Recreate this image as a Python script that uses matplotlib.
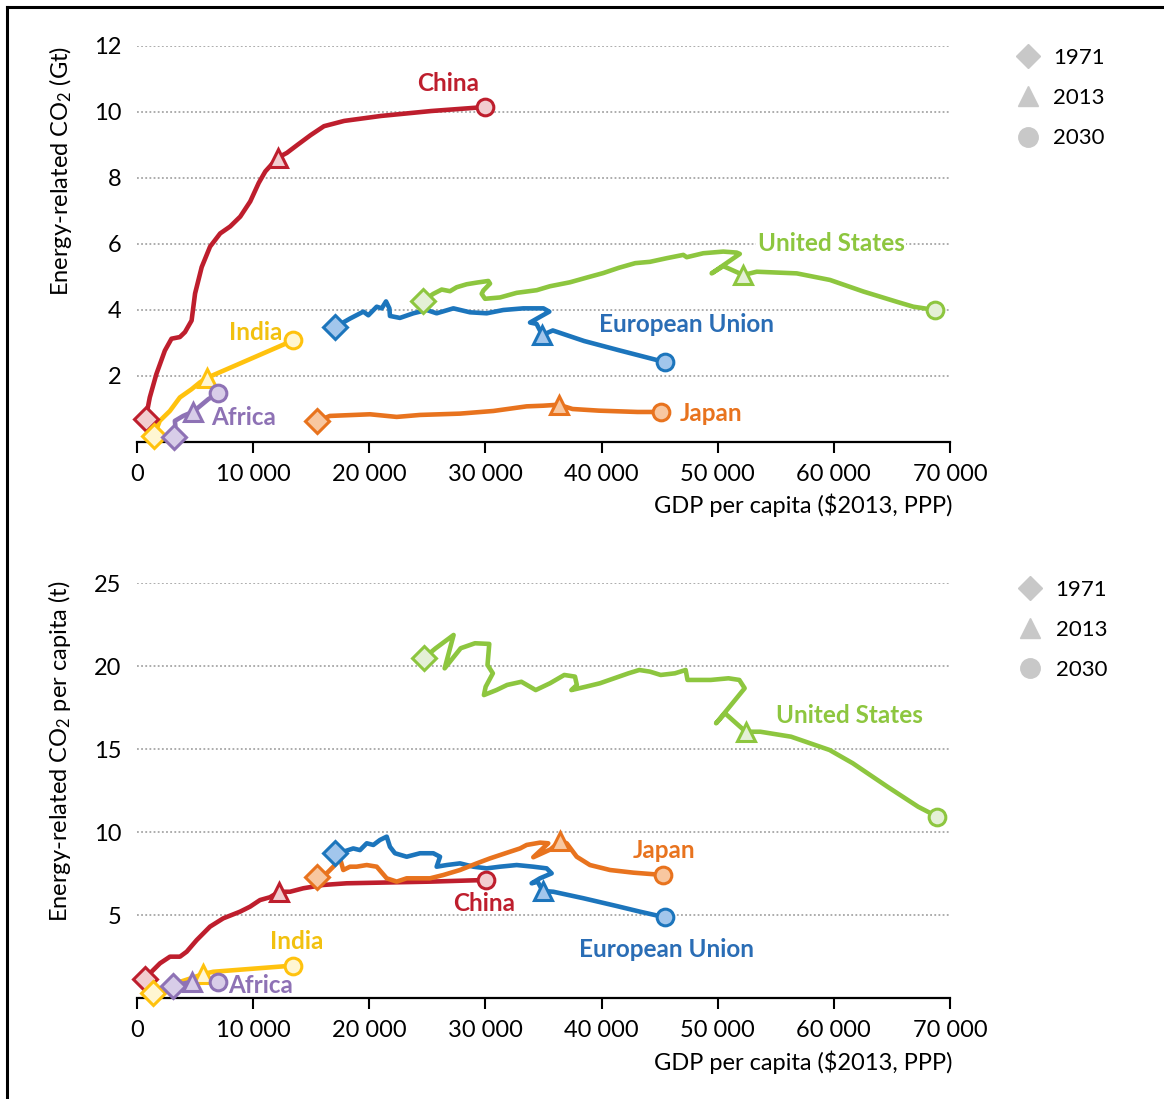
import matplotlib.pyplot as plt
from matplotlib.lines import Line2D

plt.rcParams['font.family'] = ['Lato', 'DejaVu Sans']
plt.rcParams['mathtext.default'] = 'regular'

# GDP per capita ticks shared by both panels
x_ticks = [0, 10000, 20000, 30000, 40000, 50000, 60000, 70000]
x_tick_labels = ['0', '10 000', '20 000', '30 000', '40 000', '50 000', '60 000', '70 000']
top_y_ticks = [2, 4, 6, 8, 10, 12]
bot_y_ticks = [5, 10, 15, 20, 25]
years = ['1971', '2013', '2030']

# --- total emissions (Gt) against GDP per capita ---
china_gdp = [750, 1100, 1670, 2400, 2970, 3690, 4130, 4700, 5000, 5570, 6290, 7160, 8020,
             8890, 9750, 10480, 11050, 12100, 12900, 13800, 14950, 16100, 17840, 21000,
             25340, 29960]
china_co2 = [0.71, 1.35, 2.06, 2.77, 3.13, 3.18, 3.33, 3.68, 4.5, 5.3, 5.92, 6.32, 6.53,
             6.83, 7.29, 7.85, 8.2, 8.61, 8.76, 9.0, 9.3, 9.57, 9.73, 9.88, 10.03, 10.15]
china_i2013 = 17

india_gdp = [1440, 1960, 2830, 3690, 4700, 5430, 6060, 13450]
india_co2 = [0.17, 0.64, 0.94, 1.35, 1.6, 1.81, 1.95, 3.08]
india_i2013 = 6

africa_gdp = [3200, 3300, 3260, 3980, 4850, 6150, 7010]
africa_co2 = [0.15, 0.49, 0.64, 0.79, 0.92, 1.3, 1.48]
africa_i2013 = 4

japan_gdp = [15530, 16610, 20060, 22360, 24370, 27810, 30680, 33550, 34980, 36300,
             37500, 39770, 43090, 45150]
japan_co2 = [0.63, 0.79, 0.84, 0.76, 0.82, 0.86, 0.94, 1.08, 1.1, 1.13, 1.0, 0.95,
             0.91, 0.91]
japan_i2013 = 9

eu_gdp = [17050, 18340, 19490, 19920, 20640, 21070, 21440, 21730, 21780, 22640, 23790,
          24940, 25800, 27240, 28670, 30110, 31540, 33260, 34990, 35500, 34840, 33840,
          34400, 34900, 35800, 38500, 41500, 45460]
eu_co2 = [3.48, 3.74, 3.95, 3.84, 4.10, 4.05, 4.26, 4.05, 3.82, 3.76, 3.90, 4.0, 3.90,
          4.05, 3.93, 3.90, 4.0, 4.05, 4.05, 3.95, 3.82, 3.62, 3.58, 3.24, 3.38, 3.06,
          2.78, 2.42]
eu_i2013 = 23

us_gdp = [24655, 25516, 26233, 26951, 27525, 28386, 29247, 30251, 30395, 29821, 29677,
          29964, 31255, 32690, 34412, 35560, 37280, 38700, 40150, 41500, 42900, 44170,
          45610, 47040, 47330, 48760, 50480, 51630, 51900, 49480, 50480, 52200, 53360,
          56800, 59670, 62540, 65410, 66840, 68710]
us_co2 = [4.28, 4.49, 4.62, 4.57, 4.69, 4.78, 4.83, 4.88, 4.80, 4.59, 4.49, 4.34, 4.38,
          4.52, 4.60, 4.72, 4.84, 4.98, 5.12, 5.28, 5.42, 5.46, 5.57, 5.67, 5.60, 5.72,
          5.77, 5.74, 5.70, 5.11, 5.33, 5.06, 5.16, 5.11, 4.91, 4.56, 4.25, 4.10, 4.0]
us_i2013 = 31

# --- emissions per capita (t) against GDP per capita ---
china_gdp_pc = [690, 1120, 1980, 2840, 3700, 4280, 5140, 6290, 7430, 8870, 9730, 10590,
                11450, 12230, 13170, 14320, 16040, 18050, 20920, 25230, 30050]
china_pc = [1.12, 1.49, 2.09, 2.49, 2.49, 2.79, 3.49, 4.30, 4.80, 5.20, 5.50, 5.90, 6.07,
            6.40, 6.40, 6.61, 6.81, 6.91, 6.95, 7.01, 7.11]
china_pc_i2013 = 13

india_gdp_pc = [1400, 2500, 3600, 4700, 5710, 6570, 13400]
india_pc = [0.32, 0.7, 0.95, 1.2, 1.45, 1.58, 1.95]
india_pc_i2013 = 4

africa_gdp_pc = [3070, 3900, 4710, 5800, 7000]
africa_pc = [0.72, 0.85, 0.98, 0.96, 0.94]
africa_pc_i2013 = 2

japan_gdp_pc = [15530, 16330, 16900, 17480, 17760, 18340, 18910, 19780, 20640, 21500,
                22360, 23220, 24370, 25230, 26380, 27810, 29250, 30390, 31250, 32110,
                32980, 33550, 34700, 35410, 34120, 35600, 36420, 37000, 37860, 39000,
                40730, 42740, 45320]
japan_pc = [7.31, 7.51, 7.91, 8.41, 7.71, 7.91, 7.91, 8.01, 7.91, 7.21, 7.01, 7.21, 7.21,
            7.21, 7.41, 7.71, 8.11, 8.41, 8.61, 8.81, 9.01, 9.22, 9.36, 9.32, 8.48, 8.95,
            9.45, 9.32, 8.51, 8.01, 7.71, 7.55, 7.41]
japan_pc_i2013 = 26

eu_gdp_pc = [17050, 17760, 18620, 19200, 19780, 20350, 20920, 21500, 21780, 22210, 23220,
             24370, 25510, 26090, 25800, 26670, 27810, 28960, 30110, 31250, 32690, 34120,
             35270, 35700, 34700, 33980, 34500, 34930, 35850, 38430, 41300, 43310, 45460]
eu_pc = [8.75, 8.81, 9.01, 8.91, 9.32, 9.22, 9.52, 9.72, 9.11, 8.72, 8.51, 8.72, 8.72,
         8.51, 7.91, 8.01, 8.11, 7.91, 7.81, 7.91, 8.01, 7.91, 7.81, 7.51, 7.21, 6.91,
         7.0, 6.45, 6.40, 6.01, 5.54, 5.20, 4.86]
eu_pc_i2013 = 27

us_gdp_pc = [24740, 25720, 27260, 26490, 27870, 29100, 30330, 30180, 30640, 30020, 29870,
             30950, 31870, 33100, 34330, 35560, 36790, 37710, 37870, 37400, 38630, 39860,
             42320, 43250, 44170, 45090, 46320, 47240, 47400, 49400, 50930, 51860, 52320,
             49860, 50630, 52410, 53670, 56320, 59630, 61630, 64610, 67260, 68920]
us_pc = [20.5, 21.07, 21.87, 19.86, 21.07, 21.37, 21.33, 20.06, 19.56, 18.75, 18.25,
         18.55, 18.86, 19.05, 18.55, 18.96, 19.46, 19.36, 18.86, 18.55, 18.75, 18.96,
         19.56, 19.76, 19.66, 19.46, 19.56, 19.76, 19.16, 19.16, 19.26, 19.16, 18.66,
         16.55, 17.15, 16.04, 16.04, 15.74, 14.94, 14.14, 12.73, 11.52, 10.92]
us_pc_i2013 = 35

# line colour, marker fill, label colour
colors = {
    'China': ('#BE1E2D', '#F2CDD0', '#BE1E2D'),
    'India': ('#FFC20E', '#FFF6D2', '#F2C10F'),
    'Africa': ('#8E72B5', '#D8CDE8', '#8E72B5'),
    'Japan': ('#E8731E', '#F8C7A0', '#E8731E'),
    'European Union': ('#1C75BC', '#A2C6EC', '#2A6DB5'),
    'United States': ('#8DC63F', '#E4F0D6', '#8DC63F'),
}

fig = plt.figure(figsize=(11.64, 10.99), dpi=100)
W, H = 1164, 1099
ax1 = fig.add_axes([137 / W, 1 - 442 / H, 813 / W, 396 / H])
ax2 = fig.add_axes([137 / W, 1 - 998 / H, 813 / W, 415 / H])


def draw_series(ax, name, xs, ys, i2013):
    line, fill, _ = colors[name]
    ax.plot(xs, ys, color=line, lw=3.3, solid_joinstyle='round',
            solid_capstyle='round', zorder=3, clip_on=False)
    kw = dict(color=fill, markeredgecolor=line, markeredgewidth=2.2,
              linestyle='none', zorder=4, clip_on=False)
    ax.plot(xs[0], ys[0], marker='D', ms=12, **kw)
    ax.plot(xs[i2013], ys[i2013], marker='^', ms=13.5, **kw)
    ax.plot(xs[-1], ys[-1], marker='o', ms=12, **kw)


def label(ax, name, x, y, boxed=False):
    t = ax.text(x, y, name, color=colors[name][2], fontsize=17.5, fontweight='bold',
                ha='center', va='center', zorder=5)
    if boxed:
        t.set_bbox(dict(facecolor='white', edgecolor='none', pad=1))


def style_axes(ax, yticks, ymax):
    ax.set_xlim(0, 70000)
    ax.set_ylim(0, ymax)
    for s in ['top', 'right', 'left']:
        ax.spines[s].set_visible(False)
    ax.spines['bottom'].set_linewidth(1.6)
    ax.set_xticks(x_ticks)
    ax.set_xticklabels(x_tick_labels)
    ax.set_yticks(yticks)
    ax.set_yticklabels([str(v) for v in yticks])
    ax.tick_params(axis='x', direction='out', length=8, width=1.5, labelsize=17, pad=8)
    ax.tick_params(axis='y', length=0, labelsize=17, pad=11)
    ax.grid(axis='y', linestyle=(0, (1, 1.3)), color='#A6A6A6', lw=1.3)
    ax.grid(axis='x', visible=False)
    ax.set_axisbelow(True)
    handles = [
        Line2D([], [], marker='D', ms=12, color='#C8C8C8', linestyle='none'),
        Line2D([], [], marker='^', ms=14, color='#C8C8C8', linestyle='none'),
        Line2D([], [], marker='o', ms=14, color='#C8C8C8', linestyle='none'),
    ]
    return handles


# top panel
h = style_axes(ax1, top_y_ticks, 12)
draw_series(ax1, 'China', china_gdp, china_co2, china_i2013)
draw_series(ax1, 'India', india_gdp, india_co2, india_i2013)
draw_series(ax1, 'Africa', africa_gdp, africa_co2, africa_i2013)
draw_series(ax1, 'European Union', eu_gdp, eu_co2, eu_i2013)
draw_series(ax1, 'Japan', japan_gdp, japan_co2, japan_i2013)
draw_series(ax1, 'United States', us_gdp, us_co2, us_i2013)
label(ax1, 'China', 26780, 10.85)
label(ax1, 'India', 10250, 3.33)
label(ax1, 'Africa', 9210, 0.73)
label(ax1, 'Japan', 49420, 0.85)
label(ax1, 'European Union', 47270, 3.55)
label(ax1, 'United States', 59750, 6.03, boxed=True)
ax1.legend(h, years, loc='upper left', bbox_to_anchor=(1.082, 0.995), frameon=False,
           fontsize=16, handlelength=1.0, handletextpad=0.64, labelspacing=0.91,
           borderpad=0, borderaxespad=0)

# bottom panel
h = style_axes(ax2, bot_y_ticks, 25)
draw_series(ax2, 'China', china_gdp_pc, china_pc, china_pc_i2013)
draw_series(ax2, 'India', india_gdp_pc, india_pc, india_pc_i2013)
draw_series(ax2, 'Africa', africa_gdp_pc, africa_pc, africa_pc_i2013)
draw_series(ax2, 'European Union', eu_gdp_pc, eu_pc, eu_pc_i2013)
draw_series(ax2, 'Japan', japan_gdp_pc, japan_pc, japan_pc_i2013)
draw_series(ax2, 'United States', us_gdp_pc, us_pc, us_pc_i2013)
label(ax2, 'United States', 61300, 16.99)
label(ax2, 'Japan', 45370, 8.86)
label(ax2, 'China', 29880, 5.72)
label(ax2, 'European Union', 45630, 2.95)
label(ax2, 'India', 13780, 3.43)
label(ax2, 'Africa', 10680, 0.78)
ax2.legend(h, years, loc='upper left', bbox_to_anchor=(1.085, 1.007), frameon=False,
           fontsize=16, handlelength=1.0, handletextpad=0.64, labelspacing=0.89,
           borderpad=0, borderaxespad=0)

# axis titles
fig.text(60 / W, 1 - 46 / H, 'Energy-related CO$_2$ (Gt)', rotation=90,
         ha='center', va='top', fontsize=17)
fig.text(60 / W, 1 - 581 / H, 'Energy-related CO$_2$ per capita (t)', rotation=90,
         ha='center', va='top', fontsize=17)
fig.text(952 / W, 1 - 505 / H, r'GDP per capita (\$2013, PPP)', ha='right',
         va='center', fontsize=17)
fig.text(952 / W, 1 - 1062 / H, r'GDP per capita (\$2013, PPP)', ha='right',
         va='center', fontsize=17)

# outer frame (left and top edges)
fig.add_artist(Line2D([7 / W, 7 / W], [0, 1 - 7 / H], color='black', lw=2.2))
fig.add_artist(Line2D([7 / W, 1], [1 - 7 / H, 1 - 7 / H], color='black', lw=2.2))

fig.savefig('out.png', dpi=100)
